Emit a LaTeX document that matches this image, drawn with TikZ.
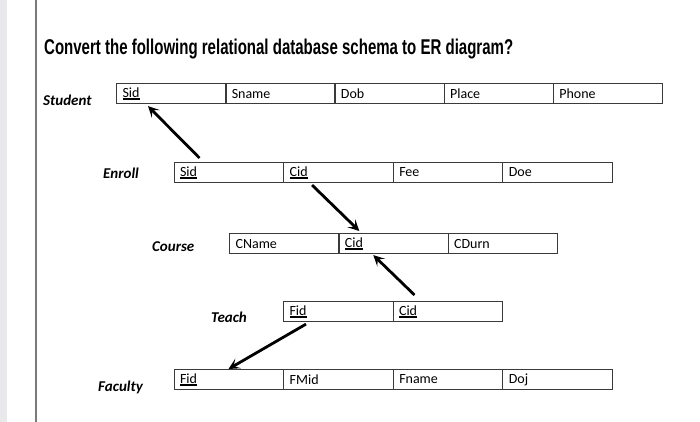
\documentclass[tikz,border=0pt]{standalone}
\usepackage{fontspec}
\setmainfont{Carlito}
\newfontfamily\titlefont{Liberation Sans}
\usepackage{graphicx}
\usetikzlibrary{arrows.meta}
\definecolor{rule}{HTML}{3A3A3A}
\definecolor{margin}{HTML}{7A7A7A}
\definecolor{strip}{HTML}{E9E9EC}
\newcommand{\pk}[1]{\setbox0\hbox{#1}\rlap{\raisebox{-2.6pt}{\rule{\wd0}{1.5pt}}}\box0}
\tikzset{
  cell/.style={draw=rule,line width=1.1pt,anchor=north west,text width=97.5pt,inner xsep=6pt,inner ysep=0pt,
    minimum height=20pt,align=left,font=\fontsize{14}{15}\selectfont},
  relname/.style={font=\fontsize{15}{16}\selectfont\bfseries\itshape,anchor=west,inner sep=0pt},
  fkarr/.style={-{Stealth[length=11pt,width=11pt,inset=5pt]},line width=2.8pt,black}
}
\begin{document}
\begin{tikzpicture}[x=1pt,y=-1pt]
  \useasboundingbox (0,0) rectangle (700,422);
  \fill[white] (0,0) rectangle (700,422);
  \fill[strip] (0,0) rectangle (7,422);
  \draw[margin,line width=2pt] (36,0) -- (36,422);
  \node[anchor=base west,inner sep=0pt] (title) at (44,55)
    {\resizebox{469pt}{15.5pt}{\titlefont\bfseries Convert the following relational database schema to ER diagram?}};
  % relations
  \node[relname] (student) at (43,100) {Student};
  \foreach \f [count=\i from 0] in {\pk{Sid},Sname,Dob,Place,Phone}
    \node[cell] (stu\i) at (116+109.2*\i,83) {\f};
  \node[relname] (enroll) at (103,173) {Enroll};
  \foreach \f [count=\i from 0] in {\pk{Sid},\pk{Cid},Fee,Doe}
    \node[cell] (enr\i) at (173.5+109.6*\i,162) {\f};
  \node[relname] (course) at (152,247) {Course};
  \foreach \f [count=\i from 0] in {CName,\pk{Cid},CDurn}
    \node[cell] (crs\i) at (229+109.3*\i,233) {\f};
  \node[relname] (teach) at (211,317) {Teach};
  \foreach \f [count=\i from 0] in {\pk{Fid},\pk{Cid}}
    \node[cell] (tch\i) at (283+109.5*\i,301) {\f};
  \node[relname] (faculty) at (98,387) {Faculty};
  \foreach \f [count=\i from 0] in {\pk{Fid},FMid,Fname,Doj}
    \node[cell] (fac\i) at (173.5+109.6*\i,369) {\f};
  % foreign keys
  \draw[fkarr] ([xshift=26pt,yshift=4pt]enr0.north west) -- ([xshift=32pt,yshift=-2pt]stu0.south west);
  \draw[fkarr] ([xshift=29pt,yshift=-2pt]enr1.south west) -- ([xshift=21pt,yshift=2pt]crs1.north west);
  \draw[fkarr] ([xshift=22pt,yshift=6pt]tch1.north west) -- ([xshift=35pt,yshift=-1pt]crs1.south west);
  \draw[fkarr] ([xshift=23pt,yshift=-2pt]tch0.south west) -- ([xshift=55pt,yshift=0pt]fac0.north west);
\end{tikzpicture}
\end{document}
